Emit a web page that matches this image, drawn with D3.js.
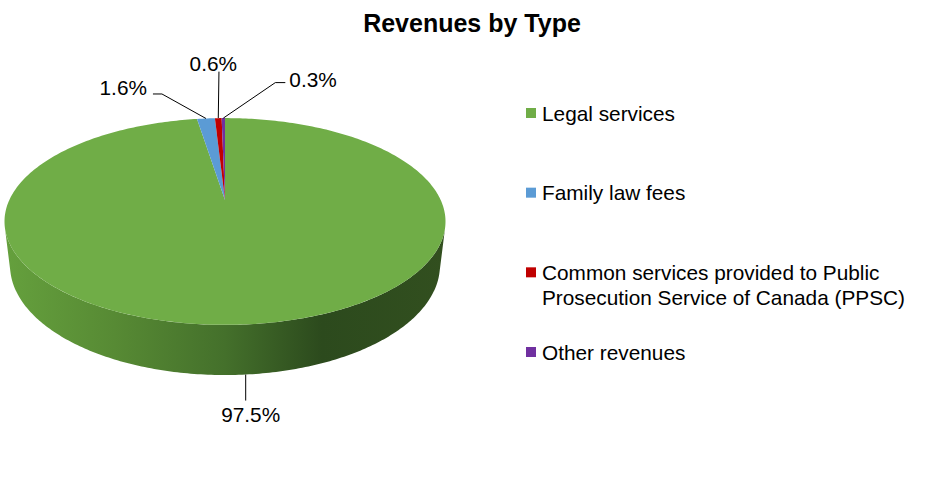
<!DOCTYPE html>
<html>
<head>
<meta charset="utf-8">
<script src="https://cdn.jsdelivr.net/npm/d3@7"></script>
<style>
  body { margin: 0; background: #fff; }
  text { font-family: "Liberation Sans", Arial, sans-serif; fill: #000; }
</style>
</head>
<body>
<svg id="revenue-pie" width="926" height="491"></svg>
<script>
// Data
const categories = [
  "Legal services",
  "Family law fees",
  "Common services provided to Public Prosecution Service of Canada (PPSC)",
  "Other revenues",
];
const shares = [97.5, 1.6, 0.6, 0.3];
const shareLabels = ["97.5%", "1.6%", "0.6%", "0.3%"];

const color = d3
  .scaleOrdinal()
  .domain(categories)
  .range(["#70ad47", "#5b9bd5", "#c00000", "#7030a0"]);

const svg = d3.select("#revenue-pie");

// Perspective camera for the 3D pie (unit-radius disc, thickness t)
const tilt = (27.3 * Math.PI) / 180;
const cam = {
  cx: 225,
  cy: 200,
  s: Math.sin(tilt),
  c: Math.cos(tilt),
  D: 4.277,
  F: 922.5,
  t: 0.23,
};

function project(theta, h) {
  const u = Math.sin(theta);
  const v = Math.cos(theta);
  const z = cam.D - h * cam.s + v * cam.c;
  return [cam.cx + (u * cam.F) / z, cam.cy - ((h * cam.c + v * cam.s) * cam.F) / z];
}

function arcPoints(a0, a1, h, n) {
  const pts = [];
  for (let k = 0; k <= n; k++) pts.push(project(a0 + ((a1 - a0) * k) / n, h));
  return pts;
}

const line = d3.line();

const pie = d3
  .pie()
  .sort(null)
  .value((d) => d.value);

const slices = pie(categories.map((name, i) => ({ name, value: shares[i], label: shareLabels[i] })));

// Side wall (only the near part is visible)
const thetaVis = Math.acos(-1 / (cam.D * cam.c));
const sideTop = arcPoints(thetaVis, 2 * Math.PI - thetaVis, 0, 200);
const sideBottom = arcPoints(2 * Math.PI - thetaVis, thetaVis, -cam.t, 200);
const sidePts = sideTop.concat(sideBottom);
const xExt = d3.extent(sidePts, (p) => p[0]);

const defs = svg.append("defs");
const grad = defs
  .append("linearGradient")
  .attr("id", "side-grad")
  .attr("gradientUnits", "userSpaceOnUse")
  .attr("x1", xExt[0])
  .attr("x2", xExt[1])
  .attr("y1", 0)
  .attr("y2", 0);
grad.append("stop").attr("offset", "0%").attr("stop-color", "#65a03d");
grad.append("stop").attr("offset", "25%").attr("stop-color", "#578a34");
grad.append("stop").attr("offset", "50%").attr("stop-color", "#44702b");
grad.append("stop").attr("offset", "72%").attr("stop-color", "#2c4a1d");
grad.append("stop").attr("offset", "100%").attr("stop-color", "#324f1f");

svg
  .append("path")
  .attr("d", line(sidePts) + "Z")
  .attr("fill", "url(#side-grad)");

// Top face slices
svg
  .selectAll("path.slice")
  .data(slices)
  .enter()
  .append("path")
  .attr("class", "slice")
  .attr("d", (d) => {
    const pts = [[cam.cx, cam.cy]];
    return line(pts.concat(arcPoints(d.startAngle, d.endAngle, 0, Math.max(4, Math.ceil((d.endAngle - d.startAngle) * 60))))) + "Z";
  })
  .attr("fill", (d) => color(d.data.name));

// Data labels with leader lines (offsets from each slice's edge anchor)
const labelLayout = [
  { h: -cam.t, elbow: [0, 26], end: [0, 26], text: [5, 47], anchor: "middle" },
  { h: 0, elbow: [-44, -24.5], end: [-53, -24.5], text: [-59, -23.5], anchor: "end" },
  { h: 0, elbow: [0.7, -46.5], end: [0.7, -46.5], text: [-5, -47.5], anchor: "middle" },
  { h: 0, elbow: [52, -35.5], end: [62, -35.5], text: [66, -31.5], anchor: "start" },
];

slices.forEach((d, i) => {
  const lay = labelLayout[i];
  const mid = (d.startAngle + d.endAngle) / 2;
  const a = project(mid, lay.h);
  svg
    .append("path")
    .attr("d", line([a, [a[0] + lay.elbow[0], a[1] + lay.elbow[1]], [a[0] + lay.end[0], a[1] + lay.end[1]]]))
    .attr("fill", "none")
    .attr("stroke", "#000")
    .attr("stroke-width", 1);
  svg
    .append("text")
    .attr("x", a[0] + lay.text[0])
    .attr("y", a[1] + lay.text[1])
    .attr("text-anchor", lay.anchor)
    .style("font-size", "20.8px")
    .text(d.data.label);
});

// Title
svg
  .append("text")
  .attr("x", 472)
  .attr("y", 32)
  .attr("text-anchor", "middle")
  .style("font-size", "25px")
  .style("font-weight", "bold")
  .text("Revenues by Type");

// Legend
const legendY = d3.scalePoint().domain(categories).range([113, 352]);
const legend = svg
  .selectAll("g.legend")
  .data(categories)
  .enter()
  .append("g")
  .attr("class", "legend")
  .attr("transform", (d) => `translate(526,${legendY(d)})`);

legend
  .append("rect")
  .attr("x", 0)
  .attr("y", -5)
  .attr("width", 10)
  .attr("height", 10)
  .attr("fill", (d) => color(d));

legend.each(function (d) {
  const txt = d3
    .select(this)
    .append("text")
    .attr("x", 16)
    .attr("y", 7.5)
    .style("font-size", "20.8px");
  const words = d.split(" ");
  let tspan = txt.append("tspan").attr("x", 16).attr("dy", 0);
  let current = [];
  words.forEach((w) => {
    current.push(w);
    tspan.text(current.join(" "));
    if (tspan.node().getComputedTextLength() > 375 && current.length > 1) {
      current.pop();
      tspan.text(current.join(" "));
      current = [w];
      tspan = txt.append("tspan").attr("x", 16).attr("dy", 25).text(w);
    }
  });
});
</script>
</body>
</html>
